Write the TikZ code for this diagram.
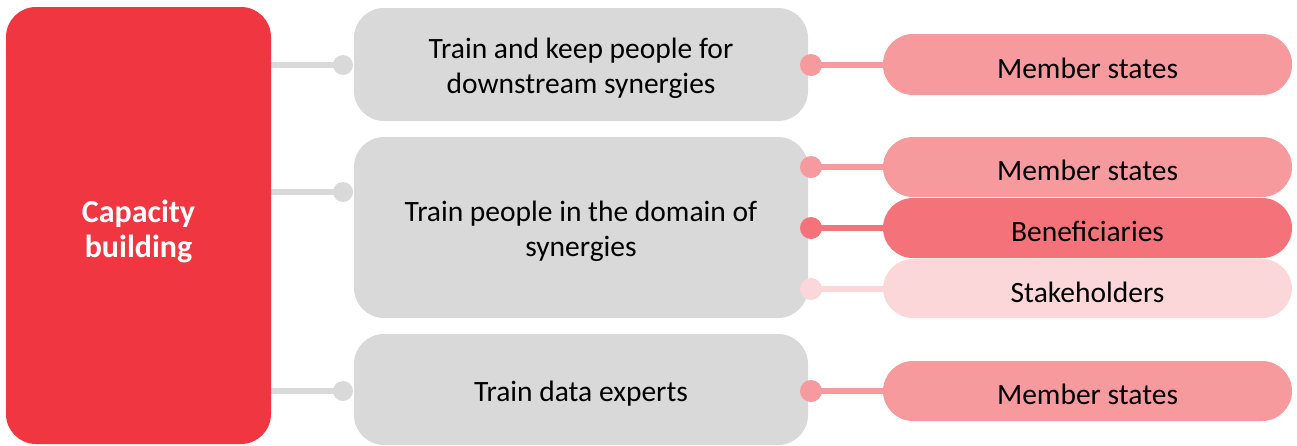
\documentclass[tikz,border=0pt]{standalone}
\usepackage{fontspec}
\setmainfont{Carlito}
\definecolor{cbred}{RGB}{240,55,65}
\definecolor{cbgrey}{RGB}{217,217,217}
\definecolor{cbpink}{RGB}{247,154,158}
\definecolor{cbmid}{RGB}{244,114,122}
\definecolor{cblight}{RGB}{251,215,218}
\begin{document}
\begin{tikzpicture}[x=1pt,y=-1pt,
  txt/.style={font=\fontsize{29.5}{35}\selectfont, align=center, inner sep=0pt},
  redbox/.style={fill=cbred, rounded corners=30pt},
  greybox/.style={fill=cbgrey, rounded corners=30pt},
  pill/.style={rounded corners=30pt},
  dotnode/.style={circle, inner sep=0pt, minimum size=#1},
  link/.style={line width=6pt}
]
\useasboundingbox (0,0) rectangle (1297,445);
% left box
\path[redbox] (6,7) rectangle (271,444);
\node[font=\fontsize{32}{35}\selectfont\bfseries, text=white, align=center, inner sep=0pt] (cap) at (138.5,231) {Capacity\\building};
% grey boxes
\path[greybox] (354,8) rectangle (808,121);
\node[txt] (g1) at (581,68) {Train and keep people for\\downstream synergies};
\path[greybox] (354,137) rectangle (808,318);
\node[txt] (g2) at (581,231) {Train people in the domain of\\synergies};
\path[greybox] (354,334) rectangle (808,445);
\node[txt] (g3) at (581,394) {Train data experts};
% pills
\path[pill, fill=cbpink] (883,34) rectangle (1292,95);
\node[txt] (p1) at (1087.5,68) {Member states};
\path[pill, fill=cbpink] (883,137) rectangle (1292,197);
\node[txt] (p2) at (1087.5,170) {Member states};
\path[pill, fill=cbmid] (883,198) rectangle (1292,258);
\node[txt] (p3) at (1087.5,231) {Beneficiaries};
\path[pill, fill=cblight] (883,259) rectangle (1292,318);
\node[txt] (p4) at (1087.5,292) {Stakeholders};
\path[pill, fill=cbpink] (883,361) rectangle (1292,421);
\node[txt] (p5) at (1087.5,394) {Member states};
% left connectors
\foreach \n/\y in {1/65,2/192,3/391}{
  \node[dotnode=20pt, fill=cbgrey] (ld\n) at (343,\y) {};
  \coordinate (ls\n) at (271,\y);
  \draw[link, cbgrey] (ls\n) -- (ld\n.center);
}
% right connectors
\foreach \n/\y/\c in {1/65/cbpink,2/167/cbpink,3/228/cbmid,4/289/cblight,5/391/cbpink}{
  \node[dotnode=22pt, fill=\c] (rd\n) at (811,\y) {};
  \coordinate (re\n) at (884,\y);
  \draw[link, \c] (rd\n.center) -- (re\n);
}
\end{tikzpicture}
\end{document}
